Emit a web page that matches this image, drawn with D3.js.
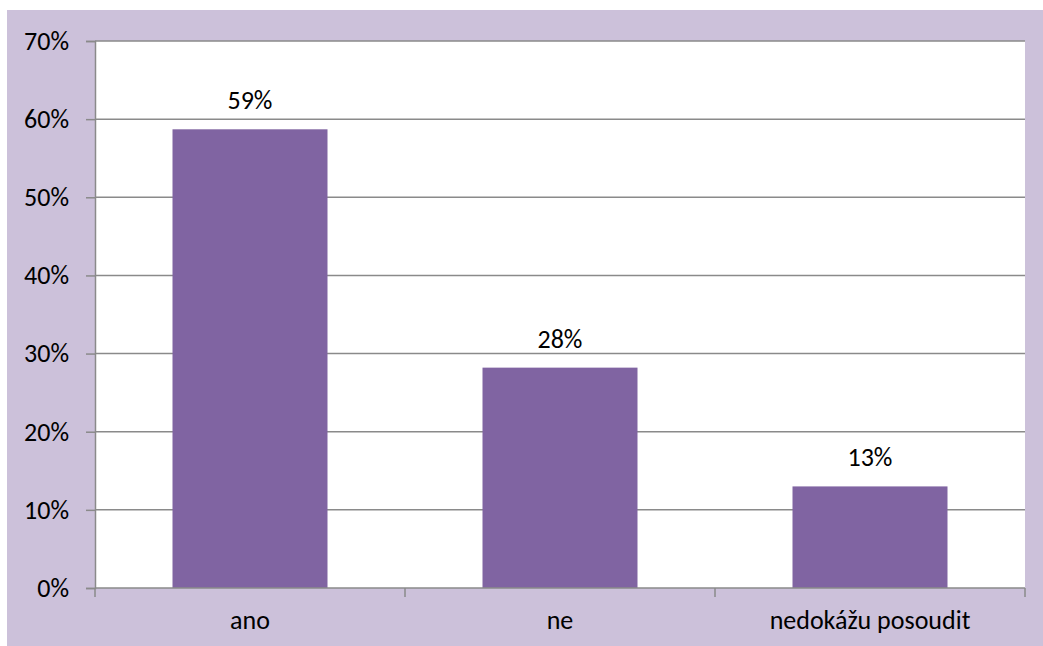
<!DOCTYPE html>
<html>
<head>
<meta charset="utf-8">
<script src="https://cdn.jsdelivr.net/npm/d3@7"></script>
<style>
  html, body { margin: 0; padding: 0; background: #ffffff; }
  svg { display: block; }
  text { font-family: Carlito, Lato, "Open Sans", sans-serif; fill: #000; }
</style>
</head>
<body>
<svg id="chart" width="1043" height="646"></svg>
<script>
// Survey answers and their shares
const categories = ["ano", "ne", "nedokážu posoudit"];
const shares = [0.587, 0.282, 0.13];
const yTicks = [0, 0.1, 0.2, 0.3, 0.4, 0.5, 0.6, 0.7];

const W = 1043, H = 646;
const margin = { left: 95, right: 18, top: 41, bottom: 58 };
const fontSize = 26;
const svg = d3.select("#chart");

// Chart background
svg.append("rect")
  .attr("x", 7).attr("y", 10)
  .attr("width", W - 7).attr("height", H - 10)
  .attr("fill", "#ccc1da");

const x = d3.scaleBand()
  .domain(categories)
  .range([margin.left, W - margin.right])
  .paddingInner(0.5).paddingOuter(0.25);

const y = d3.scaleLinear()
  .domain([0, 0.7])
  .range([H - margin.bottom, margin.top]);

// Plot area
svg.append("rect")
  .attr("x", margin.left).attr("y", margin.top)
  .attr("width", W - margin.right - margin.left)
  .attr("height", H - margin.bottom - margin.top)
  .attr("fill", "#ffffff");

const gridColor = "#8a8a8a";

// Y axis with gridlines
const yAxis = svg.append("g")
  .attr("transform", `translate(${margin.left},0)`)
  .call(d3.axisLeft(y).tickValues(yTicks).tickFormat(d3.format(".0%"))
    .tickSize(9).tickPadding(17));
yAxis.select(".domain").attr("stroke", gridColor).attr("stroke-width", 1.5);
yAxis.selectAll(".tick line").attr("stroke", gridColor).attr("stroke-width", 1.5);
yAxis.selectAll(".tick text").attr("font-size", fontSize).attr("fill", "#000");

svg.append("g")
  .selectAll("line")
  .data(yTicks.filter(d => d > 0))
  .join("line")
  .attr("x1", margin.left).attr("x2", W - margin.right)
  .attr("y1", d => y(d)).attr("y2", d => y(d))
  .attr("stroke", gridColor).attr("stroke-width", 1.5);

// Bars
svg.append("g")
  .selectAll("rect")
  .data(shares)
  .join("rect")
  .attr("x", (d, i) => x(categories[i]))
  .attr("width", x.bandwidth())
  .attr("y", d => y(d))
  .attr("height", d => y(0) - y(d))
  .attr("fill", "#8064a2");

// Value labels
svg.append("g")
  .selectAll("text")
  .data(shares)
  .join("text")
  .attr("x", (d, i) => x(categories[i]) + x.bandwidth() / 2)
  .attr("y", d => y(d) - 20)
  .attr("text-anchor", "middle")
  .attr("font-size", fontSize)
  .text(d => d3.format(".0%")(d));

// X axis with boundary ticks between categories
const [x0, x1] = x.range();
const boundaries = d3.range(categories.length + 1).map(i => x0 + i * (x1 - x0) / categories.length);
const xAxisG = svg.append("g");
xAxisG.append("line")
  .attr("x1", x0).attr("x2", x1)
  .attr("y1", y(0)).attr("y2", y(0))
  .attr("stroke", gridColor).attr("stroke-width", 1.5);
xAxisG.selectAll("line.tick")
  .data(boundaries)
  .join("line")
  .attr("class", "tick")
  .attr("x1", d => d).attr("x2", d => d)
  .attr("y1", y(0)).attr("y2", y(0) + 9)
  .attr("stroke", gridColor).attr("stroke-width", 1.5);
xAxisG.selectAll("text")
  .data(categories)
  .join("text")
  .attr("x", d => x(d) + x.bandwidth() / 2)
  .attr("y", y(0) + 41)
  .attr("text-anchor", "middle")
  .attr("font-size", fontSize)
  .text(d => d);
</script>
</body>
</html>
